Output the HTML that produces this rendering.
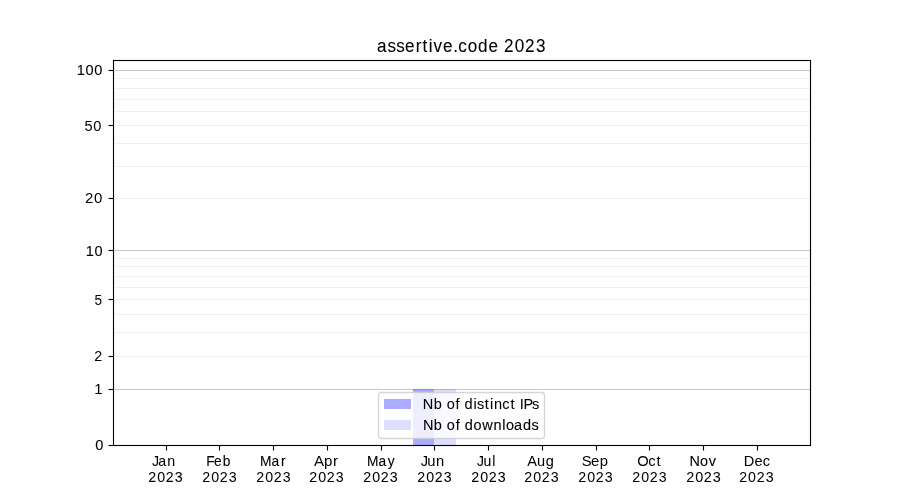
<!DOCTYPE html>
<html lang="en">
<head>
<meta charset="utf-8">
<title>assertive.code 2023</title>
<style>
html,body{margin:0;padding:0;background:#fff;}
body{width:900px;height:500px;overflow:hidden;}
svg{display:block;will-change:transform;}
text{font-family:"Liberation Sans",sans-serif;fill:#000;white-space:pre;}
.gm{fill:#f0f0f0;}
.gM{fill:#ccc;}
.ax{fill:#000;}
</style>
</head>
<body>
<svg width="900" height="500" viewBox="0 0 900 500">
<rect width="900" height="500" fill="#fff"/>
<!-- horizontal grid lines (log1p scale) -->
<g>
<rect class="gM" x="113.5" y="69.9445" width="697" height="1.111"/>
<rect class="gm" x="113.5" y="77.9445" width="697" height="1.111"/>
<rect class="gm" x="113.5" y="87.9445" width="697" height="1.111"/>
<rect class="gm" x="113.5" y="98.9445" width="697" height="1.111"/>
<rect class="gm" x="113.5" y="110.9445" width="697" height="1.111"/>
<rect class="gm" x="113.5" y="124.9445" width="697" height="1.111"/>
<rect class="gm" x="113.5" y="142.9445" width="697" height="1.111"/>
<rect class="gm" x="113.5" y="165.9445" width="697" height="1.111"/>
<rect class="gm" x="113.5" y="197.9445" width="697" height="1.111"/>
<rect class="gM" x="113.5" y="249.9445" width="697" height="1.111"/>
<rect class="gm" x="113.5" y="257.9445" width="697" height="1.111"/>
<rect class="gm" x="113.5" y="265.9445" width="697" height="1.111"/>
<rect class="gm" x="113.5" y="275.9445" width="697" height="1.111"/>
<rect class="gm" x="113.5" y="286.9445" width="697" height="1.111"/>
<rect class="gm" x="113.5" y="298.9445" width="697" height="1.111"/>
<rect class="gm" x="113.5" y="313.9445" width="697" height="1.111"/>
<rect class="gm" x="113.5" y="331.9445" width="697" height="1.111"/>
<rect class="gm" x="113.5" y="355.9445" width="697" height="1.111"/>
<rect class="gM" x="113.5" y="388.9445" width="697" height="1.111"/>
</g>
<!-- bars (June) -->
<rect x="413" y="389" width="21" height="56" fill="#00f" fill-opacity="0.33"/>
<rect x="434" y="389" width="22" height="56" fill="#00f" fill-opacity="0.13"/>
<!-- tick marks -->
<g class="ax">
<rect x="108.5" y="444.9445" width="5" height="1.111"/>
<rect x="108.5" y="388.9445" width="5" height="1.111"/>
<rect x="108.5" y="355.9445" width="5" height="1.111"/>
<rect x="108.5" y="298.9445" width="5" height="1.111"/>
<rect x="108.5" y="249.9445" width="5" height="1.111"/>
<rect x="108.5" y="197.9445" width="5" height="1.111"/>
<rect x="108.5" y="124.9445" width="5" height="1.111"/>
<rect x="108.5" y="69.9445" width="5" height="1.111"/>
<rect x="165.9445" y="445.5" width="1.111" height="5"/>
<rect x="218.9445" y="445.5" width="1.111" height="5"/>
<rect x="272.9445" y="445.5" width="1.111" height="5"/>
<rect x="326.9445" y="445.5" width="1.111" height="5"/>
<rect x="380.9445" y="445.5" width="1.111" height="5"/>
<rect x="433.9445" y="445.5" width="1.111" height="5"/>
<rect x="487.9445" y="445.5" width="1.111" height="5"/>
<rect x="541.9445" y="445.5" width="1.111" height="5"/>
<rect x="595.9445" y="445.5" width="1.111" height="5"/>
<rect x="648.9445" y="445.5" width="1.111" height="5"/>
<rect x="702.9445" y="445.5" width="1.111" height="5"/>
<rect x="756.9445" y="445.5" width="1.111" height="5"/>
</g>
<!-- axes frame -->
<g fill="#000">
<rect x="112.9445" y="59.9445" width="1.1110" height="386.1110"/>
<rect x="809.9445" y="59.9445" width="1.1110" height="386.1110"/>
<rect x="112.9445" y="444.9445" width="698.1110" height="1.1110"/>
<rect x="112.9445" y="59.9445" width="698.1110" height="1.1110"/>
</g>
<!-- y tick labels -->
<g>
<text transform="translate(0 450.00) scale(0.9960 1)" x="95.56" font-size="14.70" stroke="#000" stroke-width="0.10">0</text>
<text transform="translate(0 394.00) scale(1.0112 1)" x="93.12" font-size="14.70" stroke="#000" stroke-width="0.03">1</text>
<text transform="translate(0 361.00) scale(0.9600 1)" x="98.06" font-size="14.85" stroke="#000" stroke-width="0.03">2</text>
<text transform="translate(0 305.00) scale(0.9250 1)" x="102.15" font-size="14.70" stroke="#000" stroke-width="0.01">5</text>
<text transform="translate(0 256.00) scale(1.0048 1)" x="85.24 94.10" font-size="14.55" stroke="#000" stroke-width="0.08">10</text>
<text transform="translate(0 203.00) scale(1.0084 1)" x="84.23 93.16" font-size="14.85" stroke="#000" stroke-width="0.01">20</text>
<text transform="translate(0 131.00) scale(0.9831 1)" x="85.85 94.88" font-size="14.85">50</text>
<text transform="translate(0 75.00) scale(0.9821 1)" x="78.04 87.10 96.09" font-size="14.85" stroke="#000" stroke-width="0.09">100</text>
</g>
<!-- x tick labels -->
<g>
<text transform="translate(0 466.00) scale(0.9390 1)" x="162.00 168.40 178.19" font-size="15.15" stroke="#000" stroke-width="0.03">Jan</text>
<text transform="translate(0 482.00) scale(0.9683 1)" x="153.00 162.31 171.24 180.56" font-size="14.70" stroke="#000" stroke-width="0.04">2023</text>
<text transform="translate(0 466.00) scale(0.9347 1)" x="220.59 229.07 238.42" font-size="14.70" stroke="#000" stroke-width="0.07">Feb</text>
<text transform="translate(0 482.00) scale(0.9683 1)" x="208.77 218.08 227.00 236.33" font-size="14.70" stroke="#000" stroke-width="0.03">2023</text>
<text transform="translate(0 466.00) scale(0.9558 1)" x="272.02 284.19 294.06" font-size="14.40" stroke="#000" stroke-width="0.11">Mar</text>
<text transform="translate(0 482.00) scale(0.9683 1)" x="264.54 273.84 282.77 292.09" font-size="14.70" stroke="#000" stroke-width="0.03">2023</text>
<text transform="translate(0 466.00) scale(1.0244 1)" x="306.45 316.28 325.17" font-size="14.70">Apr</text>
<text transform="translate(0 482.00) scale(0.9683 1)" x="319.27 328.57 337.50 346.82" font-size="14.70" stroke="#000" stroke-width="0.03">2023</text>
<text transform="translate(0 466.00) scale(0.9352 1)" x="392.37 404.81 414.69" font-size="14.70" stroke="#000" stroke-width="0.10">May</text>
<text transform="translate(0 482.00) scale(0.9683 1)" x="375.03 384.34 393.27 402.59" font-size="14.70" stroke="#000" stroke-width="0.03">2023</text>
<text transform="translate(0 466.00) scale(0.9930 1)" x="423.62 430.28 439.20" font-size="14.85" stroke="#000" stroke-width="0.02">Jun</text>
<text transform="translate(0 482.00) scale(0.9683 1)" x="430.80 440.10 449.03 458.36" font-size="14.70" stroke="#000" stroke-width="0.04">2023</text>
<text transform="translate(0 466.00) scale(0.9050 1)" x="527.03 534.38 543.98" font-size="15.45" stroke="#000" stroke-width="0.07">Jul</text>
<text transform="translate(0 482.00) scale(0.9683 1)" x="486.56 495.87 504.80 514.12" font-size="14.70" stroke="#000" stroke-width="0.04">2023</text>
<text transform="translate(0 466.00) scale(0.9922 1)" x="531.29 541.29 550.10" font-size="14.70" stroke="#000" stroke-width="0.02">Aug</text>
<text transform="translate(0 482.00) scale(0.9683 1)" x="541.30 550.60 559.53 568.85" font-size="14.70" stroke="#000" stroke-width="0.03">2023</text>
<text transform="translate(0 466.00) scale(0.9691 1)" x="600.19 609.93 618.94" font-size="15.30">Sep</text>
<text transform="translate(0 482.00) scale(0.9683 1)" x="597.06 606.37 615.29 624.62" font-size="14.70" stroke="#000" stroke-width="0.03">2023</text>
<text transform="translate(0 466.00) scale(0.9997 1)" x="637.34 648.49 656.79" font-size="14.70" stroke="#000" stroke-width="0.01">Oct</text>
<text transform="translate(0 482.00) scale(0.9683 1)" x="652.83 662.13 671.06 680.38" font-size="14.70" stroke="#000" stroke-width="0.03">2023</text>
<text transform="translate(0 466.00) scale(0.9833 1)" x="701.19 712.01 720.91" font-size="14.70" stroke="#000" stroke-width="0.11">Nov</text>
<text transform="translate(0 482.00) scale(0.9833 1)" x="697.82 706.99 715.78 724.96" font-size="14.70" stroke="#000" stroke-width="0.03">2023</text>
<text transform="translate(0 466.00) scale(0.9825 1)" x="756.90 767.91 776.36" font-size="14.85" stroke="#000" stroke-width="0.03">Dec</text>
<text transform="translate(0 482.00) scale(0.9683 1)" x="763.33 772.63 781.56 790.88" font-size="14.70" stroke="#000" stroke-width="0.03">2023</text>
</g>
<!-- title -->
<text transform="translate(0 52.00) scale(0.9626 1)" x="391.55 402.60 411.60 420.83 431.98 439.01 445.34 450.39 460.34 470.82 476.16 485.90 496.55 507.48 517.69 523.51 534.73 545.49 556.73" font-size="17.75" stroke="#000" stroke-width="0.09">assertive.code 2023</text>
<!-- legend -->
<path d="M381.7 392.5H541.3Q544.5 392.5 544.5 395.7V435.3Q544.5 438.5 541.3 438.5H381.7Q378.5 438.5 378.5 435.3V395.7Q378.5 392.5 381.7 392.5Z" fill="#fff" fill-opacity="0.8" stroke="#ccc" stroke-opacity="0.8" stroke-width="1.36"/>
<rect x="384" y="399" width="27" height="10" fill="#00f" fill-opacity="0.33"/>
<rect x="384" y="420" width="27" height="10" fill="#00f" fill-opacity="0.13"/>
<text transform="translate(0 409.00) scale(0.9995 1)" x="423.08 433.98 442.34 446.96 455.85 460.14 464.83 473.68 477.30 485.12 490.21 494.14 502.57 510.85 515.62 520.07 523.70 532.33" font-size="14.55" stroke="#000" stroke-width="0.06">Nb of distinct IPs</text>
<text transform="translate(0 430.00) scale(0.9867 1)" x="428.69 439.72 448.18 452.87 461.87 466.20 470.97 479.82 488.64 500.11 508.94 512.74 520.82 530.04 538.76" font-size="14.70" stroke="#000" stroke-width="0.10">Nb of downloads</text>
</svg>
</body>
</html>
